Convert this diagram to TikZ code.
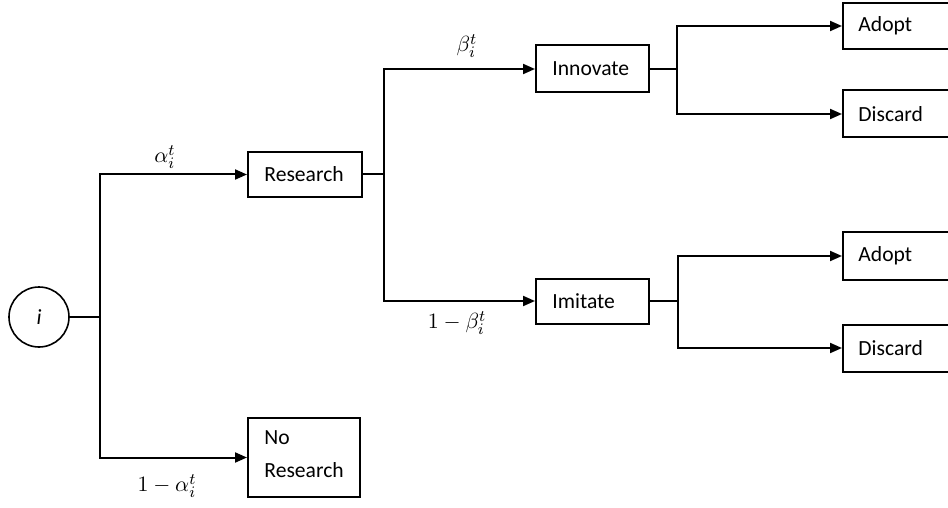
\documentclass[tikz,border=0pt]{standalone}
\usepackage{fontspec}
\setmainfont{Carlito}
\usetikzlibrary{arrows.meta}
\begin{document}
\begin{tikzpicture}[x=0.5pt,y=-0.5pt,
  box/.style={draw, line width=1pt, rectangle, inner sep=0pt},
  lbl/.style={anchor=west, inner sep=0pt, font=\fontsize{10.8}{16.5}\selectfont},
  mlbl/.style={inner sep=0pt, font=\fontsize{10.8}{13}\selectfont},
  arr/.style={line width=1pt, -{Triangle[length=6pt,width=5pt]}},
  ln/.style={line width=1pt}]
\useasboundingbox (0,0) rectangle (948,508);
\clip (0,0) rectangle (948,508);
% nodes
\node[draw, circle, line width=0.8pt, minimum size=30pt, inner sep=0pt, font=\fontsize{10.8}{13}\selectfont\itshape] (c) at (39,317) {i};
\node[box, minimum width=57pt, minimum height=22.5pt] (research) at (305,174.5) {};
\node[lbl] (researchT) at ([xshift=8.5pt]research.west) {Research};
\node[box, minimum width=56pt, minimum height=39.5pt] (noresearch) at (304,457.5) {};
\node[lbl, align=left] (noresearchT) at ([xshift=8.5pt,yshift=1.5pt]noresearch.west) {No\\Research};
\node[box, minimum width=56.5pt, minimum height=23.5pt] (innovate) at (592.5,69) {};
\node[lbl] (innovateT) at ([xshift=8.5pt]innovate.west) {Innovate};
\node[box, minimum width=56.5pt, minimum height=22.5pt] (imitate) at (592.5,301) {};
\node[lbl] (imitateT) at ([xshift=8.5pt]imitate.west) {Imitate};
\node[box, minimum width=60pt, minimum height=23pt] (adopt1) at (903,26) {};
\node[lbl] (adopt1T) at ([xshift=8pt]adopt1.west) {Adopt};
\node[box, minimum width=60pt, minimum height=23.5pt] (discard1) at (903,114) {};
\node[lbl] (discard1T) at ([xshift=8pt]discard1.west) {Discard};
\node[box, minimum width=60pt, minimum height=24pt] (adopt2) at (903,256) {};
\node[lbl] (adopt2T) at ([xshift=8pt]adopt2.west) {Adopt};
\node[box, minimum width=60pt, minimum height=23.5pt] (discard2) at (903,348) {};
\node[lbl] (discard2T) at ([xshift=8pt]discard2.west) {Discard};
% junctions
\coordinate (j0) at (100,317);
\coordinate (j1) at (384,174.5);
\coordinate (j2) at (677,69);
\coordinate (j3) at (678,301);
% connectors
\draw[ln] (c.east) -- (j0);
\draw[arr] (j0) |- (research.west);
\draw[arr] (j0) |- (noresearch.west);
\draw[ln] (research.east) -- (j1);
\draw[arr] (j1) |- (innovate.west);
\draw[arr] (j1) |- (imitate.west);
\draw[ln] (innovate.east) -- (j2);
\draw[arr] (j2) |- (adopt1.west);
\draw[arr] (j2) |- (discard1.west);
\draw[ln] (imitate.east) -- (j3);
\draw[arr] (j3) |- (adopt2.west);
\draw[arr] (j3) |- (discard2.west);
% probability labels
\node[mlbl] (la) at (165,157) {$\alpha_i^t$};
\node[mlbl] (lna) at (167,486) {$1-\alpha_i^t$};
\node[mlbl] (lb) at (467,46) {$\beta_i^t$};
\node[mlbl] (lnb) at (457,323) {$1-\beta_i^t$};
\end{tikzpicture}
\end{document}
